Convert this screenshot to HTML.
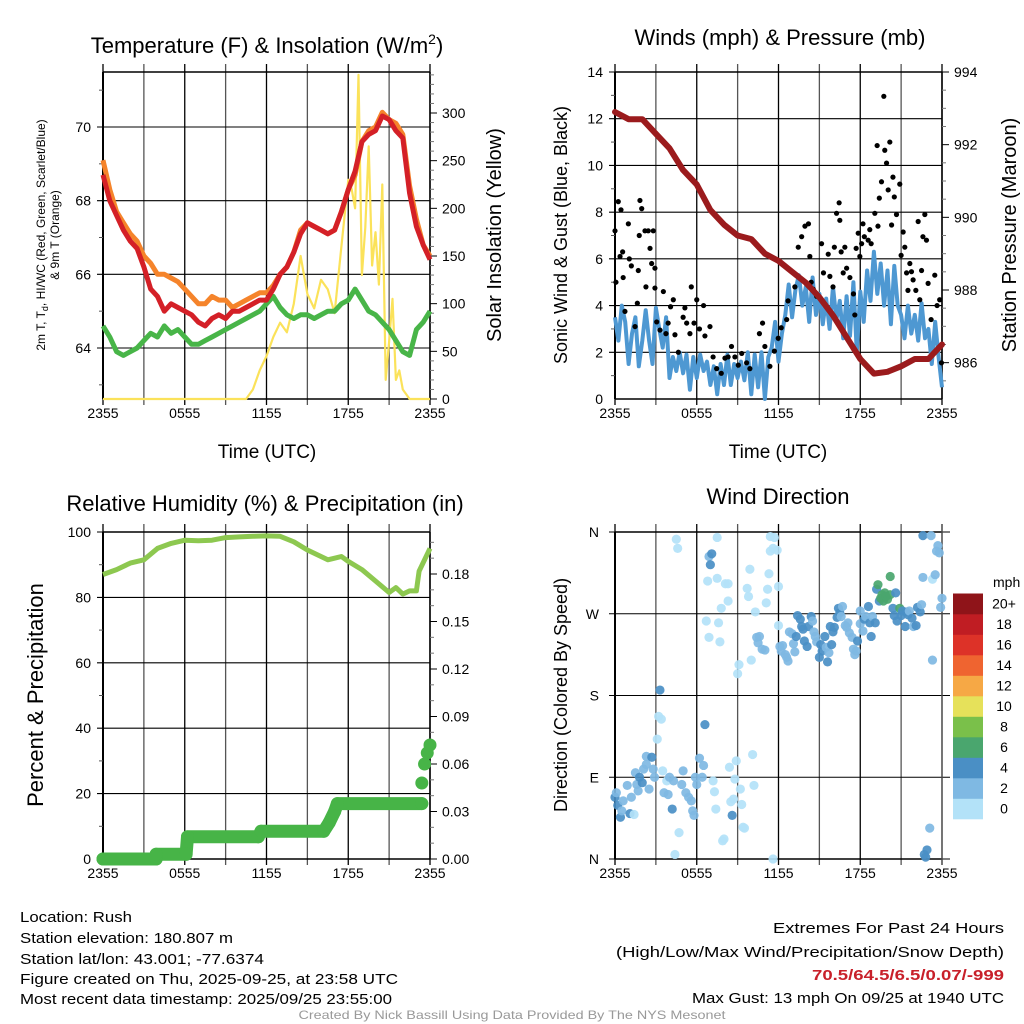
<!DOCTYPE html>
<html><head><meta charset="utf-8"><style>
html,body{margin:0;padding:0;background:#fff}
svg{display:block;font-family:"Liberation Sans",sans-serif}
</style></head><body>
<svg id="c" width="1024" height="1024" viewBox="0 0 1024 1024" xmlns="http://www.w3.org/2000/svg">
<rect width="1024" height="1024" fill="#fff"/>
<g id="g1"></g>
<g id="g2"></g>
<g id="g3"></g>
<g id="g4"></g>
<text x="267" y="53" font-size="22" text-anchor="middle">Temperature (F) &amp; Insolation (W/m<tspan dy="-9" font-size="14">2</tspan><tspan dy="9">)</tspan></text>
<text x="780" y="45" font-size="22" text-anchor="middle">Winds (mph) &amp; Pressure (mb)</text>
<text x="265" y="511" font-size="22" text-anchor="middle">Relative Humidity (%) &amp; Precipitation (in)</text>
<text x="778" y="504" font-size="22" text-anchor="middle">Wind Direction</text>
<text x="267" y="458" font-size="19" text-anchor="middle">Time (UTC)</text>
<text x="778" y="458" font-size="19" text-anchor="middle">Time (UTC)</text>
<text transform="translate(45,235) rotate(-90)" font-size="12" text-anchor="middle">2m T, T<tspan font-size="9" dy="3">d</tspan><tspan dy="-3">, HI/WC (Red, Green, Scarlet/Blue)</tspan></text>
<text transform="translate(59,235) rotate(-90)" font-size="12" text-anchor="middle">&amp; 9m T (Orange)</text>
<text transform="translate(501,235) rotate(-90)" font-size="20" text-anchor="middle">Solar Insolation (Yellow)</text>
<text transform="translate(567,235) rotate(-90)" font-size="18" text-anchor="middle">Sonic Wind &amp; Gust (Blue, Black)</text>
<text transform="translate(1016,235) rotate(-90)" font-size="20" text-anchor="middle">Station Pressure (Maroon)</text>
<text transform="translate(43,695) rotate(-90)" font-size="22" text-anchor="middle">Percent &amp; Precipitation</text>
<text transform="translate(567,695) rotate(-90)" font-size="18" text-anchor="middle">Direction (Colored By Speed)</text>
<g font-size="15">
<text x="20" y="922" textLength="112" lengthAdjust="spacingAndGlyphs">Location: Rush</text>
<text x="20" y="943" textLength="213" lengthAdjust="spacingAndGlyphs">Station elevation: 180.807 m</text>
<text x="20" y="964" textLength="244" lengthAdjust="spacingAndGlyphs">Station lat/lon: 43.001; -77.6374</text>
<text x="20" y="984" textLength="378" lengthAdjust="spacingAndGlyphs">Figure created on Thu, 2025-09-25, at 23:58 UTC</text>
<text x="20" y="1004" textLength="372" lengthAdjust="spacingAndGlyphs">Most recent data timestamp: 2025/09/25 23:55:00</text>
</g>
<g font-size="15" text-anchor="end">
<text x="1004" y="933" textLength="231" lengthAdjust="spacingAndGlyphs">Extremes For Past 24 Hours</text>
<text x="1004" y="957" textLength="388" lengthAdjust="spacingAndGlyphs">(High/Low/Max Wind/Precipitation/Snow Depth)</text>
<text x="1004" y="980" textLength="192" lengthAdjust="spacingAndGlyphs" fill="#c8202a" font-weight="bold">70.5/64.5/6.5/0.07/-999</text>
<text x="1004" y="1003" textLength="312" lengthAdjust="spacingAndGlyphs">Max Gust: 13 mph On 09/25 at 1940 UTC</text>
</g>
<text x="512" y="1019" font-size="12" fill="#999" text-anchor="middle" textLength="427" lengthAdjust="spacingAndGlyphs">Created By Nick Bassill Using Data Provided By The NYS Mesonet</text>
</svg>
<script>
const timeTicks = ["2355","0555","1155","1755","2355"];
const tempRed = [68.7,68.0,67.6,67.2,66.9,66.7,66.2,65.6,65.4,65.0,65.2,65.1,65.0,64.9,64.7,64.6,64.8,64.9,64.8,65.0,65.0,65.1,65.2,65.3,65.3,65.6,66.0,66.2,66.6,67.1,67.4,67.3,67.2,67.1,67.2,67.7,68.3,68.8,69.6,69.8,69.9,70.3,70.2,69.9,69.7,68.2,67.3,66.8,66.4];
const tempOrange = [69.1,68.3,67.7,67.4,67.1,66.9,66.5,66.3,66.0,66.0,65.9,65.8,65.6,65.4,65.2,65.2,65.4,65.3,65.3,65.1,65.2,65.3,65.4,65.5,65.5,65.7,66.0,66.2,66.6,67.2,67.4,67.3,67.2,67.1,67.2,67.7,68.3,68.7,69.6,69.9,70.0,70.4,70.2,70.1,69.8,68.4,67.5,66.8,66.5];
const tempGreen = [64.6,64.3,63.9,63.8,63.9,64.0,64.2,64.4,64.3,64.6,64.4,64.5,64.3,64.1,64.1,64.2,64.3,64.4,64.5,64.6,64.7,64.8,64.9,65.0,65.2,65.4,65.1,64.9,64.8,64.9,64.9,64.8,64.9,65.0,65.0,65.2,65.3,65.6,65.3,65.0,64.9,64.7,64.5,64.2,63.9,63.8,64.5,64.7,65.0];
const solarHours = [0,10.5,11,11.5,12,12.5,13,13.5,14,14.5,15,15.5,16,16.5,17,17.5,18,18.25,18.5,18.75,19,19.25,19.5,19.75,20,20.25,20.5,20.75,21,21.25,21.5,21.75,22,22.5,24];
const solarWm2 = [0,0,10,30,45,65,80,70,100,150,110,95,125,115,90,160,230,220,200,340,130,180,265,140,175,120,225,20,60,105,20,30,10,0,0];
const windSustained = [3.5,2.5,4.0,3.3,1.5,2.8,3.5,1.4,2.5,3.8,2.5,1.5,3.9,3.0,2.2,3.5,0.9,1.8,1.2,2.0,1.1,1.9,0.4,1.8,0.9,1.9,1.2,1.6,0.6,1.4,0.2,1.5,0.6,1.9,0.6,1.5,0.9,1.6,0.8,2.0,0.2,1.9,0.5,2.0,0.0,1.8,2.2,3.3,1.6,2.8,3.6,4.9,3.5,4.7,5.3,4.0,4.8,3.3,5.2,3.6,4.5,3.2,4.3,3.0,4.8,3.4,4.2,2.6,4.4,2.7,5.0,2.0,4.6,3.3,5.5,4.2,6.3,4.5,5.8,4.0,5.5,3.2,5.7,4.0,3.6,2.6,4.0,2.8,3.6,2.5,4.1,2.6,3.0,1.5,3.3,1.8,0.5];
const gustHours = [0,0.07,0.24,0.44,0.37,0.56,0.6,0.73,0.98,1.05,1.2,1.47,1.64,1.71,1.83,1.96,1.78,2.2,2.27,2.44,2.57,2.69,2.81,2.93,2.93,3.06,3.3,3.55,3.74,3.9,4.08,4.28,4.4,4.65,5.0,5.13,5.26,5.5,5.6,5.8,6.0,6.2,6.5,6.6,6.97,7.2,7.46,7.8,8.07,8.3,8.55,8.8,9.05,9.3,9.66,9.9,10.6,10.83,11.0,11.37,11.7,11.98,12.2,12.6,12.7,13.2,13.45,13.7,13.94,14.2,14.3,14.4,14.55,14.8,15.16,15.3,15.65,15.77,16.0,16.1,16.26,16.45,16.5,16.6,16.75,16.87,17.0,17.24,17.5,17.6,17.7,17.85,17.97,18.1,18.2,18.3,18.58,18.7,18.8,19.07,19.24,19.3,19.4,19.56,19.73,19.8,19.93,20.05,20.17,20.3,20.4,20.5,20.66,20.9,21.0,21.15,21.27,21.4,21.5,21.64,21.76,21.88,22.08,22.25,22.37,22.5,22.6,22.74,22.86,22.98,23.2,23.47,23.64,23.83,23.96];
const gustSpeeds = [7.2,5.0,8.45,8.1,6.1,6.3,5.2,3.75,7.5,6.0,5.7,3.1,4.1,5.5,8.5,8.15,7.0,7.2,4.8,7.2,6.45,5.8,7.2,4.75,5.6,3.3,2.95,4.6,2.8,3.25,3.95,4.25,2.75,2.0,3.5,3.9,3.25,2.8,4.8,3.25,4.25,3.0,4.0,2.7,3.1,1.8,1.3,1.1,1.75,1.8,2.25,1.8,1.45,1.95,1.55,1.3,2.8,3.25,2.25,1.4,2.05,2.6,3.05,3.4,4.2,4.8,6.5,6.95,7.4,7.5,6.1,5.0,4.7,4.4,6.65,5.4,6.2,5.25,4.8,6.5,7.95,8.4,7.65,6.3,5.4,6.5,5.6,5.2,4.5,3.6,6.45,7.1,6.1,6.65,7.5,6.95,6.8,7.25,6.65,7.95,10.85,7.4,8.6,9.3,12.96,10.65,10.1,8.95,11.0,7.45,9.5,8.65,7.9,9.2,6.15,7.15,6.5,5.4,4.65,5.8,5.45,5.1,4.65,7.6,4.25,5.5,6.95,7.9,6.8,4.95,3.4,5.3,4.0,4.25,1.55];
const pressureMb = [992.9,992.7,992.7,992.3,991.9,991.3,990.9,990.2,989.8,989.5,989.4,989.0,988.8,988.5,988.2,987.8,987.3,986.7,986.1,985.7,985.75,985.9,986.1,986.1,986.5];
const rhHours = [0,1,2,3,4,5,6,7,8,9,10,11,12,13,14,15,16,16.5,17,17.5,18,19,20,21,21.5,22,22.5,23,23.2,24];
const rhPct = [87,88.5,90.5,91.5,95,96.5,97.5,97.3,97.5,98.3,98.5,98.7,98.8,98.7,97,94.5,92.5,91.5,92,92.5,91,88.5,85,81.5,83,81,82,82,88,95];
const precipHours = [0,3.9,3.9,6.1,6.2,11.4,11.6,16.2,16.6,17.0,17.2,23.4,23.4,23.6,23.8,24.0];
const precipIn = [0,0,0.003,0.003,0.014,0.014,0.0175,0.0175,0.023,0.03,0.035,0.035,0.048,0.06,0.067,0.072];
const dirHours = [0,0.1,0.2,0.4,0.5,0.6,0.9,1.1,1.2,1.4,1.5,1.6,1.7,1.8,2.0,2.1,2.3,2.3,2.5,2.7,2.8,2.9,3.1,3.2,3.3,3.4,3.5,3.6,3.8,3.9,4.0,4.2,4.3,4.4,4.5,4.6,4.7,4.9,5.0,5.2,5.4,5.6,5.7,5.8,5.9,6.0,6.2,6.4,6.5,6.6,6.7,6.8,6.9,6.9,7.0,7.1,7.2,7.3,7.4,7.5,7.5,7.6,7.7,7.8,7.9,8.0,8.1,8.3,8.3,8.4,8.5,8.6,8.7,8.8,8.9,9.0,9.1,9.2,9.3,9.4,9.5,9.7,9.8,9.9,10.0,10.1,10.2,10.3,10.4,10.5,10.6,10.8,11.0,11.1,11.2,11.3,11.4,11.4,11.6,11.6,11.7,11.9,12.0,12.0,12.1,12.2,12.3,12.5,12.6,12.7,12.8,13.0,13.1,13.2,13.3,13.4,13.6,13.7,13.8,13.9,14.1,14.2,14.4,14.5,14.6,14.7,14.8,15.0,15.1,15.2,15.4,15.5,15.6,15.7,15.8,15.9,16.0,16.1,16.3,16.4,16.5,16.6,16.7,16.9,17.0,17.1,17.2,17.4,17.5,17.6,17.7,17.8,18.0,18.0,18.2,18.3,18.4,18.6,18.7,18.8,18.9,19.1,19.2,19.3,19.4,19.5,19.6,19.7,19.8,19.9,20.0,20.2,20.2,20.4,20.5,20.6,20.7,20.9,21.0,21.1,21.3,21.4,21.5,21.6,21.8,21.9,22.1,22.2,22.4,22.5,22.6,22.6,22.7,22.8,22.9,23.1,23.2,23.3,23.3,23.5,23.6,23.7,23.8,23.9,24.0];
const dirDeg = [68,73,59,46,53,64,81,50,68,49,95,82,75,90,84,99,113,104,77,112,99,90,132,157,186,154,97,73,86,71,90,55,86,5,352,342,29,82,97,73,68,64,53,48,90,82,111,90,103,148,262,306,244,333,324,336,86,74,55,354,309,260,239,276,20,22,303,284,303,101,63,48,66,88,108,204,214,77,60,35,34,298,289,319,219,115,81,272,244,238,245,231,230,282,297,314,339,355,0,342,354,340,300,257,234,229,235,225,222,218,250,248,237,228,245,268,264,256,253,240,234,256,267,262,250,245,239,222,236,229,245,233,217,227,256,236,250,255,266,276,271,267,278,257,255,260,249,244,231,225,229,240,259,273,251,264,267,278,260,245,267,260,297,302,284,287,291,284,293,289,286,311,291,276,268,293,262,276,268,273,256,272,269,273,265,256,257,277,272,280,310,356,5,2,10,34,356,219,308,313,339,345,337,277,287];
const dirSpeed = [5,3,5,5,3,3,3,5,3,1,3,3,3,5,5,3,3,3,3,5,3,3,1,1,5,1,1,3,1,3,3,5,3,1,1,1,1,3,3,3,3,3,3,3,3,3,3,3,3,5,1,1,1,3,5,5,1,1,1,1,1,1,1,1,1,1,1,1,1,1,1,5,1,1,1,1,1,1,1,1,1,1,1,1,1,1,1,1,3,3,3,3,3,1,1,1,1,1,1,1,1,1,1,1,3,3,3,3,3,3,3,3,3,3,5,5,5,5,5,5,5,5,5,3,3,3,3,5,5,5,5,3,5,3,5,5,5,5,5,5,5,3,3,3,3,3,3,3,3,3,3,5,3,3,3,5,3,5,5,5,3,5,5,7,5,7,7,7,7,7,7,7,7,5,5,5,5,7,5,5,5,5,5,3,5,3,5,5,5,3,3,5,5,5,5,3,3,3,1,3,3,3,3,3,3,1,1];
const cbLabels = ["0","2","4","6","8","10","12","14","16","18","20+"];
const cbColors = ["#b3e2f8","#7fb9e3","#4a8fc5","#4aa66e","#7ac04a","#e6e15a","#f6a845","#ef6430","#dd3228","#c01d23","#8f1419"];

const NS="http://www.w3.org/2000/svg";
function mk(parent,tag,attrs){const e=document.createElementNS(NS,tag);for(const k in attrs)e.setAttribute(k,attrs[k]);parent.appendChild(e);return e;}
function xs(x0,x1){return h=>x0+(x1-x0)*h/24;}
function lin(v0,v1,p0,p1){return v=>p0+(v-v0)*(p1-p0)/(v1-v0);}

function frame(g,x0,x1,y0,y1,extendR,gridYs){
  const X=xs(x0,x1);
  for(let i=0;i<=8;i++){const xx=X(i*3);
    const l=mk(g,'line',{x1:xx,x2:xx,y1:y0-8,y2:y1+6,stroke:(i%2?'#555':'#000'),'stroke-width':1.3});
    
    
  }
  gridYs.forEach(yy=>{const l=mk(g,'line',{x1:x0-6,x2:x1+extendR,y1:yy,y2:yy,stroke:'#000','stroke-width':1.1});
    
    });
  timeTicks.forEach((t,i)=>{const tx=mk(g,'text',{x:X(i*6),y:y1+19,'font-size':14,'text-anchor':'middle'});tx.textContent=t;
    
    });
  mk(g,'line',{x1:x0,x2:x0,y1:y0,y2:y1,stroke:'#000','stroke-width':2});
  mk(g,'line',{x1:x0,x2:x1,y1:y0,y2:y0,stroke:'#000','stroke-width':1.5});
  mk(g,'line',{x1:x0,x2:x1,y1:y1,y2:y1,stroke:'#000','stroke-width':1.5});
  return X;
}
function leftTicks(g,x0,Y,vals,labels,minor){
  vals.forEach((v,i)=>{const t=mk(g,'text',{x:x0-12,y:Y(v)+5,'font-size':14,'text-anchor':'end'});t.textContent=labels[i];
    
    });
  (minor||[]).forEach(v=>mk(g,'line',{x1:x0-4,x2:x0,y1:Y(v),y2:Y(v),stroke:'#555'}));
}
function rightTicks(g,x1,Y,vals,labels,minor){
  vals.forEach((v,i)=>{mk(g,'line',{x1:x1,x2:x1+7,y1:Y(v),y2:Y(v),stroke:'#000'});
    const t=mk(g,'text',{x:x1+12,y:Y(v)+5,'font-size':14});t.textContent=labels[i];
    
    });
  minor.forEach(v=>mk(g,'line',{x1:x1,x2:x1+4,y1:Y(v),y2:Y(v),stroke:'#777'}));
}
function pathFrom(xsArr,ysArr){return xsArr.map((x,i)=>(i?'L':'M')+x.toFixed(1)+' '+ysArr[i].toFixed(1)).join(' ');}

// Panel 1
(function(){
  const g=document.getElementById('g1');const x0=103,x1=430,y0=72,y1=399;
  const Y=lin(64,70,348,127);const YR=lin(0,300,399,113);
  const X=frame(g,x0,x1,y0,y1,0,[64,66,68,70].map(Y));
  leftTicks(g,x0,Y,[64,66,68,70],["64","66","68","70"],[63,65,67,69,71]);
  const maj=[0,50,100,150,200,250,300],mn=[];for(let v=10;v<=340;v+=10)if(v%50)mn.push(v);
  mk(g,'line',{x1:x1,x2:x1,y1:y0,y2:y1,stroke:'#000','stroke-width':1.5});
  rightTicks(g,x1,YR,maj,maj.map(String),mn);
  const hh=tempRed.map((_,i)=>i*0.5);
  const sol=mk(g,'path',{d:pathFrom(solarHours.map(X),solarWm2.map(YR)),fill:'none',stroke:'#fbe25a','stroke-width':2.2,'stroke-linejoin':'round'});
  
  const gr=mk(g,'path',{d:pathFrom(hh.map(X),tempGreen.map(Y)),fill:'none',stroke:'#48b548','stroke-width':5,'stroke-linejoin':'round'});
  
  const or=mk(g,'path',{d:pathFrom(hh.map(X),tempOrange.map(Y)),fill:'none',stroke:'#f5842b','stroke-width':5,'stroke-linejoin':'round'});
  
  const rd=mk(g,'path',{d:pathFrom(hh.map(X),tempRed.map(Y)),fill:'none',stroke:'#d42027','stroke-width':5,'stroke-linejoin':'round'});
  
})();

// Panel 2
(function(){
  const g=document.getElementById('g2');const x0=615,x1=942,y0=72,y1=399;
  const Y=lin(0,14,399,72);const YR=lin(985,994,399,72);
  const X=frame(g,x0,x1,y0,y1,0,[2,4,6,8,10,12,14].map(Y));
  leftTicks(g,x0,Y,[0,2,4,6,8,10,12,14],["0","2","4","6","8","10","12","14"],[1,3,5,7,9,11,13]);
  mk(g,'line',{x1:x1,x2:x1,y1:y0,y2:y1,stroke:'#000','stroke-width':1.5});
  const mn=[];for(let v=985.5;v<994;v+=0.5)if(v%2)mn.push(v);
  rightTicks(g,x1,YR,[986,988,990,992,994],["986","988","990","992","994"],mn);
  const hh=windSustained.map((_,i)=>i*24/(windSustained.length-1));
  const bl=mk(g,'path',{d:pathFrom(hh.map(X),windSustained.map(Y)),fill:'none',stroke:'#4e98d2','stroke-width':4,'stroke-linejoin':'round'});
  
  gustHours.forEach((h,i)=>{const c=mk(g,'circle',{cx:X(h),cy:Y(gustSpeeds[i]),r:2.6,fill:'#000'});
    });
  const ph=pressureMb.map((_,i)=>i);
  const pr=mk(g,'path',{d:pathFrom(ph.map(X),pressureMb.map(YR)),fill:'none',stroke:'#9b1b1d','stroke-width':6,'stroke-linejoin':'round','stroke-linecap':'round'});
  
})();

// Panel 3
(function(){
  const g=document.getElementById('g3');const x0=103,x1=430,y0=532,y1=859;
  const Y=lin(0,100,859,532);const YR=lin(0,0.18,859,574);
  const X=frame(g,x0,x1,y0,y1,0,[20,40,60,80,100].map(Y));
  leftTicks(g,x0,Y,[0,20,40,60,80,100],["0","20","40","60","80","100"],[10,30,50,70,90]);
  mk(g,'line',{x1:x1,x2:x1,y1:y0,y2:y1,stroke:'#000','stroke-width':1.5});
  const maj=[0,0.03,0.06,0.09,0.12,0.15,0.18],mn=[0.01,0.02,0.04,0.05,0.07,0.08,0.10,0.11,0.13,0.14,0.16,0.17,0.19,0.20];
  rightTicks(g,x1,YR,maj,maj.map(v=>v.toFixed(2)),mn);
  const rh=mk(g,'path',{d:pathFrom(rhHours.map(X),rhPct.map(Y)),fill:'none',stroke:'#8dc850','stroke-width':5,'stroke-linejoin':'round'});
  
  const n=12;
  const pl=mk(g,'path',{d:pathFrom(precipHours.slice(0,n).map(X),precipIn.slice(0,n).map(YR)),fill:'none',stroke:'#47b447','stroke-width':13,'stroke-linejoin':'round','stroke-linecap':'round'});
  
  precipHours.forEach((h,i)=>{const c=mk(g,'circle',{cx:X(h),cy:YR(precipIn[i]),r:6.5,fill:'#47b447'});
    });
})();

// Panel 4
(function(){
  const g=document.getElementById('g4');const x0=615,x1=942,y0=532,y1=859;
  const Y=lin(0,360,859,532);
  const X=frame(g,x0,x1,y0,y1,8,[0,90,180,270,360].map(Y));
  leftTicks(g,x0-4,Y,[0,90,180,270,360],["N","E","S","W","N"],[]);
  mk(g,'line',{x1:x1,x2:x1,y1:y0-8,y2:y1+6,stroke:'#555','stroke-width':1.3});
  dirHours.forEach((h,i)=>{const s=dirSpeed[i];const b=Math.min(10,Math.floor(s/2));
    const c=mk(g,'circle',{cx:X(h),cy:Y(dirDeg[i]),r:4.6,fill:cbColors[b],opacity:0.92});
    });
  const cb=mk(g,'g',{});
  
  const t=mk(cb,'text',{x:993,y:587,'font-size':14});t.textContent='mph';
  cbLabels.forEach((lab,i)=>{const yy=819-(i+1)*20.5;
    const r=mk(cb,'rect',{x:953,y:yy,width:30,height:20.8,fill:cbColors[i]});
    
    const tx=mk(cb,'text',{x:1004,y:yy+15,'font-size':14,'text-anchor':'middle'});tx.textContent=lab;
    });
})();
</script>
</body></html>
